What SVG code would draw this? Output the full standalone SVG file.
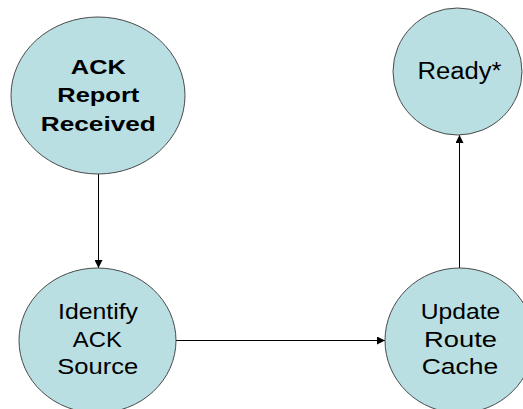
<svg xmlns="http://www.w3.org/2000/svg" width="523" height="409" viewBox="0 0 523 409">
<style>
.node{fill:#B9DFE3;stroke:#4a4a4a;stroke-width:1}
.lbl{font-family:"Liberation Sans",Arial,sans-serif;font-size:21.5px;fill:#000;text-anchor:middle}
.bold{font-weight:bold;font-size:20.5px}
.edge{stroke:#000;stroke-width:1;fill:none;marker-end:url(#arr)}
</style>
<defs>
<marker id="arr" viewBox="0 0 10 10" refX="10" refY="5" markerWidth="8" markerHeight="8" markerUnits="userSpaceOnUse" orient="auto">
<path d="M0,0 L10,5 L0,10 z" fill="#000"/>
</marker>
</defs>
<rect width="523" height="409" fill="#fff"/>
<g id="connectors">
<line class="edge" x1="98.5" y1="174" x2="98.5" y2="268"/>
<line class="edge" x1="176" y1="340.5" x2="385" y2="340.5"/>
<line class="edge" x1="459.5" y1="268" x2="459.5" y2="135"/>
</g>
<g id="node-ack-report">
<ellipse class="node" cx="98" cy="95.5" rx="87" ry="78.5"/>
<text class="lbl bold" x="98.3" y="73.5" textLength="55" lengthAdjust="spacingAndGlyphs">ACK</text>
<text class="lbl bold" x="98.3" y="101.5" textLength="82" lengthAdjust="spacingAndGlyphs">Report</text>
<text class="lbl bold" x="98.3" y="131" textLength="115" lengthAdjust="spacingAndGlyphs">Received</text>
</g>
<g id="node-identify">
<ellipse class="node" cx="97.5" cy="340.5" rx="78.5" ry="72.5"/>
<text class="lbl" x="98" y="318.5" textLength="80" lengthAdjust="spacingAndGlyphs">Identify</text>
<text class="lbl" x="97.3" y="346.7" textLength="49" lengthAdjust="spacingAndGlyphs">ACK</text>
<text class="lbl" x="97.8" y="374" textLength="81" lengthAdjust="spacingAndGlyphs">Source</text>
</g>
<g id="node-update">
<ellipse class="node" cx="459.5" cy="340.5" rx="74.5" ry="72.5"/>
<text class="lbl" x="460.5" y="319" textLength="79.5" lengthAdjust="spacingAndGlyphs">Update</text>
<text class="lbl" x="460.5" y="346.7" textLength="73" lengthAdjust="spacingAndGlyphs">Route</text>
<text class="lbl" x="460" y="374" textLength="76.5" lengthAdjust="spacingAndGlyphs">Cache</text>
</g>
<g id="node-ready">
<ellipse class="node" cx="457.5" cy="71.5" rx="64.5" ry="63.5"/>
<text class="lbl" x="459.5" y="79" textLength="84" lengthAdjust="spacingAndGlyphs" style="font-size:23px">Ready*</text>
</g>
</svg>
